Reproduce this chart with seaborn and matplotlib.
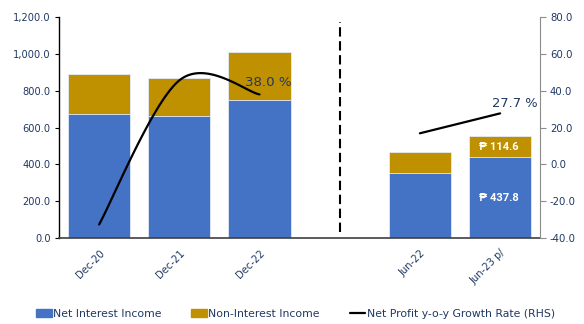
import numpy as np
import pandas as pd
import matplotlib
matplotlib.use("Agg")
import matplotlib.pyplot as plt
import matplotlib.transforms as mtransforms
import seaborn as sns
from matplotlib.patches import Patch
from matplotlib.lines import Line2D

sns.set_style("white")
plt.rcParams["font.family"] = ["DejaVu Sans"]

# Data (PHP billions, growth in %)
categories = ["Dec-20", "Dec-21", "Dec-22", "Jun-22", "Jun-23 p/"]
net_interest_income = [671.7, 662.5, 752.0, 351.0, 437.8]
non_interest_income = [219.0, 205.0, 260.0, 118.0, 114.6]
net_profit_growth = [-32.6, 45.6, 38.0, 16.9, 27.7]
slot_order = ["Dec-20", "Dec-21", "Dec-22", " ", "Jun-22", "Jun-23 p/"]

NAVY = "#1F3864"
BLUE = "#4472C4"
GOLD = "#BF9000"

df = pd.DataFrame({
    "period": categories,
    "nii": net_interest_income,
    "nonii": non_interest_income,
})
df["total"] = df["nii"] + df["nonii"]
df["growth"] = net_profit_growth
df["pos"] = [slot_order.index(c) for c in categories]

fig = plt.figure(figsize=(5.84, 3.24), dpi=100)
ax = fig.add_axes([0.101, 0.265, 0.824, 0.6825])

# Stacked bars: total in gold, net interest income drawn over it in blue
sns.barplot(data=df, x="period", y="total", order=slot_order, color=GOLD,
            saturation=1, width=0.775, edgecolor="#e4ebf7", linewidth=0.6, ax=ax)
sns.barplot(data=df, x="period", y="nii", order=slot_order, color=BLUE,
            saturation=1, width=0.775, edgecolor="#e4ebf7", linewidth=0.6, ax=ax)

ax.set_xlim(-0.5, 5.5)
ax.set_ylim(0, 1200)
ax.set_yticks(np.arange(0, 1201, 200))
ax.set_yticklabels([f"{v:,.1f}" for v in np.arange(0, 1201, 200)])
ax.set_xlabel("")
ax.set_ylabel("")
ax.set_xticks(range(len(slot_order)))
ax.set_xticklabels(slot_order, rotation=45, ha="right", rotation_mode="anchor")
shift = mtransforms.ScaledTranslation(-4 / 100, 0, fig.dpi_scale_trans)
for lbl in ax.get_xticklabels():
    lbl.set_color(NAVY)
    lbl.set_fontsize(7.2)
    lbl.set_transform(lbl.get_transform() + shift)
ax.tick_params(axis="x", length=0, pad=7)
ax.tick_params(axis="y", colors="black", length=3, width=0.8, direction="out",
               labelsize=7.1, labelcolor=NAVY, pad=3)
for s in ["top", "right"]:
    ax.spines[s].set_visible(False)
ax.spines["left"].set_color("black")
ax.spines["left"].set_linewidth(1.0)
ax.spines["bottom"].set_color("#404040")
ax.spines["bottom"].set_linewidth(1.2)

# Divider between annual and half-year figures
ax.axvline(3, ymin=0.027, ymax=0.977, color="black", lw=1.5, ls=(0, (4.5, 2.2)))

# Secondary axis for growth rate
ax2 = ax.twinx()
ax2.set_ylim(-40, 80)
ax2.set_yticks(np.arange(-40, 81, 20))
ax2.set_yticklabels([f"{v:.1f}" for v in np.arange(-40, 81, 20)])
ax2.tick_params(axis="y", colors="#8c8c8c", length=4, width=0.8, labelsize=7.3,
                labelcolor=NAVY, pad=3)
for s in ["top", "left", "bottom"]:
    ax2.spines[s].set_visible(False)
ax2.spines["right"].set_color("#8c8c8c")
ax2.spines["right"].set_linewidth(0.8)


def smooth_curve(xs, ys, n=60):
    pts = np.column_stack([xs, ys]).astype(float)
    out = []
    for i in range(len(pts) - 1):
        p0 = pts[i - 1] if i > 0 else pts[i]
        p1, p2 = pts[i], pts[i + 1]
        p3 = pts[i + 2] if i + 2 < len(pts) else pts[i + 1]
        c1 = p1 + (p2 - p0) / 6
        c2 = p2 - (p3 - p1) / 6
        t = np.linspace(0, 1, n)[:, None]
        seg = ((1 - t) ** 3) * p1 + 3 * ((1 - t) ** 2) * t * c1 \
            + 3 * (1 - t) * t ** 2 * c2 + t ** 3 * p2
        out.append(seg)
    return np.vstack(out)


for group in [df.iloc[:3], df.iloc[3:]]:
    curve = smooth_curve(group["pos"].values, group["growth"].values)
    sns.lineplot(x=curve[:, 0], y=curve[:, 1], sort=False, color="black",
                 lw=1.6, ax=ax2, legend=False)
ax2.set_xlim(-0.5, 5.5)

# Growth labels
ax2.text(df["pos"][2] + 0.11, df["growth"][2] + 6.2, f"{df['growth'][2]:.1f} %",
         color=NAVY, fontsize=9.6, ha="center", va="center")
ax2.text(df["pos"][4] + 0.18, df["growth"][4] + 5.5, f"{df['growth'][4]:.1f} %",
         color=NAVY, fontsize=9.4, ha="center", va="center")

# Value labels inside the latest bar
last = df.iloc[-1]
peso_font = dict(family=["Roboto", "DejaVu Sans"], fontsize=8, fontweight="bold")
ax.text(last["pos"] - 0.02, last["nii"] / 2, f"\u20b1 {last['nii']:.1f}", color="white",
        ha="center", va="center", **peso_font)
ax.text(last["pos"] - 0.02, last["nii"] + last["nonii"] / 2, f"\u20b1 {last['nonii']:.1f}",
        color="white", ha="center", va="center", **peso_font)

handles = [
    Patch(facecolor=BLUE, edgecolor=BLUE),
    Patch(facecolor=GOLD, edgecolor=GOLD),
    Line2D([0], [0], color="black", lw=1.6),
]
labels = ["Net Interest Income", "Non-Interest Income",
          "Net Profit y-o-y Growth Rate (RHS)"]
fig.legend(handles, labels, loc="center", bbox_to_anchor=(0.506, 0.031), ncol=3,
           frameon=False, fontsize=7.8, handlelength=1.45, handleheight=0.7,
           handletextpad=0.12, columnspacing=2.75, labelcolor=NAVY)

fig.savefig("out.png", dpi=100)
